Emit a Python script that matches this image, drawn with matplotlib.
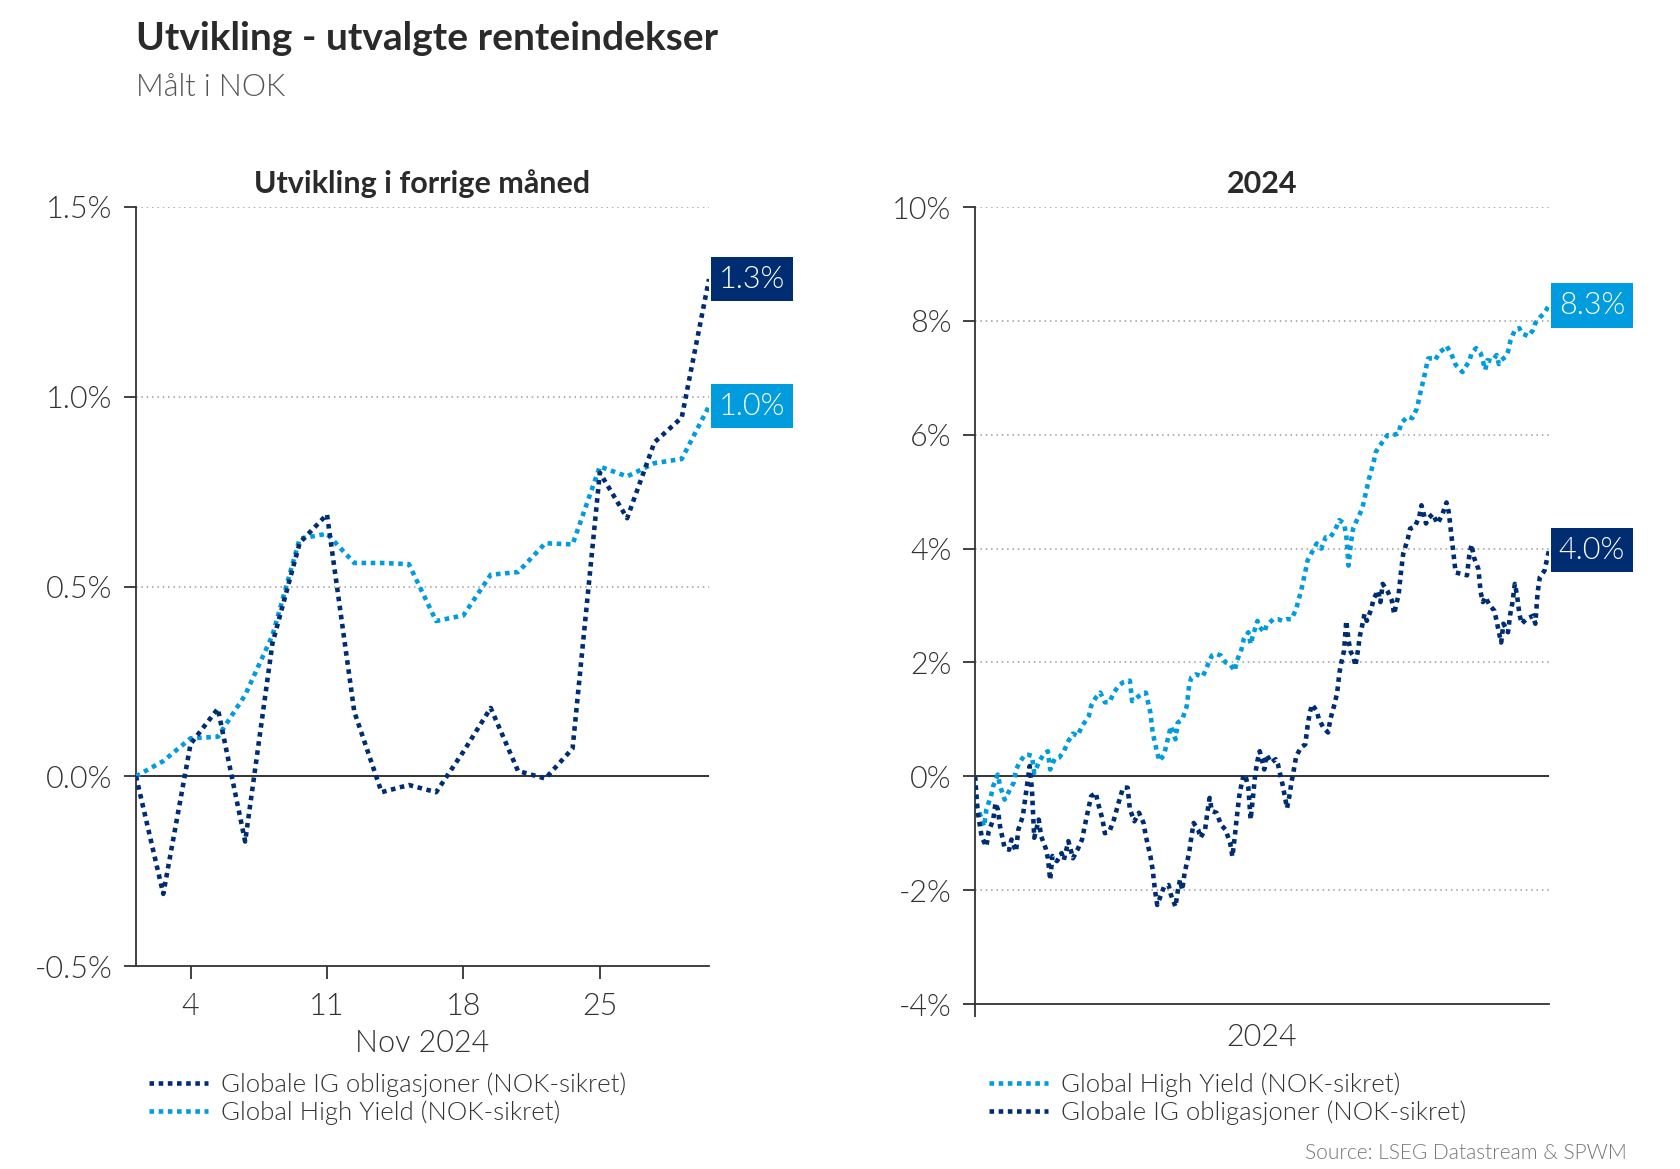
import matplotlib
matplotlib.use("Agg")
import matplotlib.pyplot as plt
from matplotlib.lines import Line2D

# ======================
# DATA
# ======================

# Nov 2024: handelsdager, indeks 0 = 31. okt (utgangspunkt)
nov_ig = [0.0, -0.31, 0.085, 0.178, -0.172, 0.35, 0.615, 0.69, 0.17, -0.042, -0.023,
          -0.042, 0.065, 0.18, 0.014, -0.006, 0.073, 0.80, 0.68, 0.88, 0.945, 1.31]
nov_hy = [0.0, 0.04, 0.10, 0.104, 0.214, 0.371, 0.626, 0.639, 0.562, 0.562, 0.559,
          0.409, 0.424, 0.531, 0.538, 0.614, 0.611, 0.816, 0.79, 0.825, 0.836, 0.975]
nov_ticks = [2, 7, 12, 17]
nov_ticklabels = ["4", "11", "18", "25"]

# 2024: handelsdag-nummer og avkastning i %
hy_day = [0, 1, 3, 4, 5, 7, 8, 10, 11, 13, 15, 17, 18, 20, 22, 23, 25, 26, 28, 30,
          32, 33, 35, 37, 39, 41, 43, 45, 47, 50, 51, 53, 55, 57, 59, 61, 63, 65, 68, 69,
          72, 74, 75, 77, 78, 80, 81, 83, 85, 86, 88, 89, 91, 93, 94, 95, 97, 100, 102, 104,
          106, 108, 110, 112, 114, 115, 117, 118, 120, 121, 122, 124, 125, 127, 128, 131, 133, 135, 137, 139,
          141, 142, 143, 145, 146, 148, 150, 152, 154, 156, 158, 160, 162, 163, 164, 165, 166, 168, 170, 172,
          173, 175, 176, 179, 181, 183, 186, 187, 190, 192, 194, 195, 196, 197, 198, 199, 201, 202, 204, 206,
          207, 209, 211, 214, 215, 217, 218, 220, 222, 223, 224, 225, 227, 229, 230, 231, 233, 234, 235, 237,
          239, 240, 243, 245, 246, 248, 250, 252]
hy_val = [0.0, -0.53, -0.76, -0.88, -0.58, -0.35, -0.17, 0.03, -0.17, -0.41, -0.26, -0.11, 0.12, 0.27, 0.38, 0.38, 0.36, 0.06, 0.24, 0.38,
          0.44, 0.12, 0.31, 0.33, 0.44, 0.62, 0.75, 0.71, 0.88, 1.06, 1.24, 1.38, 1.47, 1.30, 1.30, 1.47, 1.59, 1.65, 1.68, 1.32,
          1.41, 1.46, 1.47, 1.12, 0.77, 0.41, 0.27, 0.38, 0.71, 0.88, 0.65, 0.94, 1.00, 1.24, 1.59, 1.74, 1.79, 1.75, 1.94, 2.12,
          2.15, 2.12, 2.00, 1.97, 1.85, 2.03, 2.23, 2.41, 2.53, 2.32, 2.47, 2.73, 2.62, 2.53, 2.65, 2.76, 2.76, 2.73, 2.76, 2.76,
          2.94, 3.09, 3.23, 3.59, 3.79, 3.94, 4.09, 4.00, 4.20, 4.20, 4.32, 4.50, 4.44, 4.23, 3.70, 4.09, 4.35, 4.53, 4.70, 5.05,
          5.23, 5.52, 5.70, 5.88, 5.99, 5.99, 6.02, 6.20, 6.32, 6.29, 6.46, 6.64, 6.82, 6.98, 7.17, 7.34, 7.34, 7.31, 7.45, 7.51,
          7.56, 7.43, 7.23, 7.10, 7.17, 7.29, 7.43, 7.52, 7.43, 7.29, 7.14, 7.31, 7.29, 7.40, 7.24, 7.31, 7.37, 7.46, 7.64, 7.84,
          7.87, 7.78, 7.73, 7.84, 7.96, 8.06, 8.14, 8.27]

ig_day = [0, 1, 3, 5, 6, 8, 9, 10, 11, 13, 15, 16, 18, 19, 21, 22, 24, 25, 26, 28,
          29, 31, 32, 33, 34, 36, 38, 39, 41, 43, 45, 47, 48, 50, 51, 53, 54, 56, 57, 59,
          61, 63, 65, 67, 68, 70, 72, 74, 75, 77, 78, 79, 80, 82, 83, 85, 86, 88, 89, 90,
          91, 92, 94, 95, 96, 98, 99, 101, 102, 103, 104, 106, 108, 110, 112, 113, 114, 115, 116, 117,
          118, 119, 120, 121, 122, 123, 124, 125, 127, 128, 130, 132, 133, 134, 135, 136, 137, 138, 139, 140,
          141, 143, 145, 146, 147, 148, 150, 151, 153, 155, 156, 158, 159, 160, 161, 162, 163, 164, 165, 166,
          167, 168, 169, 170, 171, 172, 174, 175, 177, 178, 179, 181, 183, 184, 186, 187, 188, 190, 191, 193,
          195, 196, 197, 198, 199, 201, 203, 205, 207, 208, 209, 210, 211, 213, 216, 217, 218, 219, 221, 222,
          223, 224, 226, 228, 229, 230, 231, 232, 234, 235, 236, 237, 238, 239, 240, 242, 245, 246, 247, 248,
          250, 252]
ig_val = [0.0, -0.58, -1.08, -1.23, -0.97, -0.76, -0.47, -0.58, -0.88, -1.26, -1.29, -1.11, -1.32, -0.94, -0.70, -0.41, 0.18, -0.23, -1.08, -0.76,
          -1.05, -1.26, -1.44, -1.82, -1.40, -1.49, -1.35, -1.47, -1.14, -1.44, -1.29, -1.11, -0.91, -0.53, -0.35, -0.29, -0.47, -0.76, -1.00, -0.97,
          -0.76, -0.47, -0.20, -0.20, -0.58, -0.79, -0.64, -0.82, -1.05, -1.40, -1.64, -2.00, -2.26, -2.05, -1.94, -1.91, -2.08, -2.29, -2.02, -1.82,
          -2.00, -1.70, -1.35, -1.06, -0.82, -0.94, -1.08, -0.94, -0.64, -0.38, -0.61, -0.64, -0.85, -0.94, -1.17, -1.41, -1.08, -0.70, -0.35, -0.14,
          0.03, -0.03, -0.20, -0.76, -0.38, 0.03, 0.27, 0.44, 0.12, 0.38, 0.24, 0.30, 0.21, 0.03, -0.14, -0.35, -0.56, -0.35, -0.09, 0.12,
          0.35, 0.50, 0.56, 0.88, 1.12, 1.26, 1.15, 1.00, 0.85, 0.77, 1.00, 1.29, 1.47, 1.82, 2.03, 2.20, 2.73, 2.38, 2.18, 2.12,
          1.94, 2.18, 2.47, 2.65, 2.85, 2.73, 2.94, 3.12, 3.26, 3.06, 3.38, 3.26, 3.09, 2.85, 3.20, 3.58, 3.91, 4.17, 4.35, 4.38,
          4.55, 4.76, 4.61, 4.44, 4.53, 4.61, 4.44, 4.58, 4.81, 4.64, 4.29, 3.94, 3.58, 3.56, 3.53, 3.88, 4.07, 3.85, 3.64, 3.23,
          3.06, 3.15, 3.00, 2.91, 2.73, 2.53, 2.35, 2.68, 2.53, 2.85, 3.06, 3.38, 3.17, 2.85, 2.68, 2.76, 2.82, 2.68, 3.23, 3.50,
          3.61, 3.97]

ig_label = "Globale IG obligasjoner (NOK-sikret)"
hy_label = "Global High Yield (NOK-sikret)"

# ======================
# STIL
# ======================

NAVY = "#002D72"
BLUE = "#009CDE"
TXT = "#333333"
FS = 22   # akser / etiketter
LIGHT = 300

plt.rcParams["font.family"] = ["Lato", "DejaVu Sans"]
plt.rcParams["axes.linewidth"] = 1.3

W, H = 1680, 1169
fig = plt.figure(figsize=(W / 100, H / 100), dpi=100)

ls = (0, (1, 1))
lw = 3.3


def style_axes(ax, yticks, fmt):
    ax.spines[["top", "right"]].set_visible(False)
    ax.spines["left"].set_color(TXT)
    ax.spines["bottom"].set_color(TXT)
    ax.set_yticks(yticks)
    ax.set_yticklabels([fmt(v) for v in yticks], fontweight=LIGHT)
    ax.set_ylim(yticks[0], yticks[-1])
    ax.tick_params(axis="y", length=9, width=1.3, color=TXT, pad=8,
                   labelsize=FS, labelcolor=TXT)
    ax.tick_params(axis="x", length=9, width=1.3, color=TXT, pad=10,
                   labelsize=FS, labelcolor=TXT)
    for v in yticks[1:]:
        if v == 0:
            ax.axhline(0, color=TXT, lw=1.4, zorder=1)
        else:
            ax.axhline(v, color="#9a9a9a", lw=1.1, ls=(0, (1, 2.5)), zorder=0)


def end_box(ax, x, y, txt, color):
    ax.annotate(txt, xy=(x, y), xytext=(7, 0), textcoords="offset points",
                ha="left", va="center", color="white", fontsize=FS,
                fontweight=LIGHT, annotation_clip=False,
                bbox=dict(boxstyle="square,pad=0.25", fc=color, ec="none"))


# ---------- venstre panel ----------
ax1 = fig.add_axes([136 / W, 1 - 966 / H, (709 - 136) / W, (966 - 207) / H])
x_nov = list(range(len(nov_ig)))
ax1.plot(x_nov, nov_hy, color=BLUE, lw=lw, ls=ls, zorder=3)
ax1.plot(x_nov, nov_ig, color=NAVY, lw=lw, ls=ls, zorder=4)
ax1.set_xlim(0, len(nov_ig) - 1)
style_axes(ax1, [-0.5, 0.0, 0.5, 1.0, 1.5], lambda v: f"{v:.1f}%")
ax1.set_xticks(nov_ticks)
ax1.set_xticklabels(nov_ticklabels, fontweight=LIGHT)
ax1.set_xlabel("Nov 2024", fontsize=FS, color=TXT, va="center", fontweight=LIGHT)
ax1.xaxis.set_label_coords(0.5, -78 / 759)
ax1.set_title("Utvikling i forrige måned", fontsize=22, fontweight="bold",
              color="#2a2a2a", pad=10)
end_box(ax1, x_nov[-1], nov_ig[-1], f"{nov_ig[-1]:.1f}%", NAVY)
end_box(ax1, x_nov[-1], nov_hy[-1], f"{nov_hy[-1]:.1f}%", BLUE)

# ---------- høyre panel ----------
ax2 = fig.add_axes([975 / W, 1 - 1004 / H, (1549 - 975) / W, (1004 - 207) / H])
ax2.plot(hy_day, hy_val, color=BLUE, lw=lw, ls=ls, zorder=3)
ax2.plot(ig_day, ig_val, color=NAVY, lw=lw, ls=ls, zorder=4)
ax2.set_xlim(0, 252)
style_axes(ax2, [-4, -2, 0, 2, 4, 6, 8, 10], lambda v: f"{v:.0f}%")
ax2.set_xticks([0])
ax2.set_xticklabels([""])
ax2.set_xlabel("2024", fontsize=FS, color=TXT, va="center", fontweight=LIGHT)
ax2.xaxis.set_label_coords(0.5, -33 / 797)
ax2.set_title("2024", fontsize=22, fontweight="bold", color="#2a2a2a", pad=10)
end_box(ax2, 252, hy_val[-1], f"{hy_val[-1]:.1f}%", BLUE)
end_box(ax2, 252, ig_val[-1], f"{ig_val[-1]:.1f}%", NAVY)

# ---------- legender ----------
def dot_handle(c):
    return Line2D([], [], color=c, lw=lw, ls=ls)


leg_kw = dict(frameon=False, handlelength=2.3, handletextpad=0.5,
              labelspacing=0.15, borderpad=0, borderaxespad=0, loc="upper left",
              labelcolor=TXT, prop=dict(family=["Lato", "DejaVu Sans"], size=18.5, weight=LIGHT))
fig.legend([dot_handle(NAVY), dot_handle(BLUE)], [ig_label, hy_label],
           bbox_to_anchor=(149 / W, 1 - 1072 / H), **leg_kw)
fig.legend([dot_handle(BLUE), dot_handle(NAVY)], [hy_label, ig_label],
           bbox_to_anchor=(989 / W, 1 - 1072 / H), **leg_kw)

# ---------- titler ----------
fig.text(136 / W, 1 - 38 / H, "Utvikling - utvalgte renteindekser", fontsize=28,
         fontweight="bold", color="#2a2a2a", va="center", ha="left")
fig.text(136 / W, 1 - 87 / H, "Målt i NOK", fontsize=22, fontweight=LIGHT,
         color="#555555", va="center", ha="left")
fig.text(1627 / W, 1 - 1153 / H, "Source: LSEG Datastream & SPWM", fontsize=15,
         fontweight=LIGHT, color="#777777", va="center", ha="right")

fig.savefig("out.png", dpi=100, facecolor="white")
